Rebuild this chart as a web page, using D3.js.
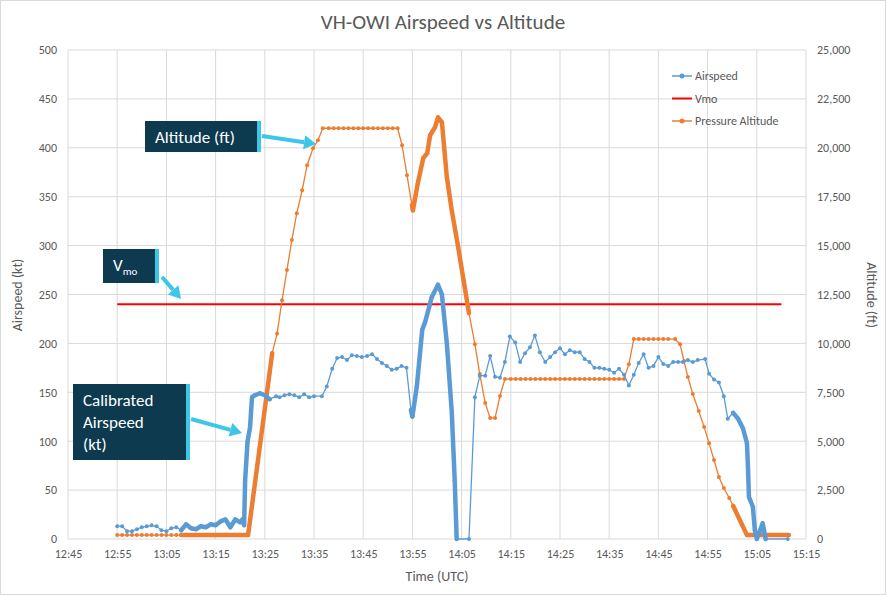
<!DOCTYPE html>
<html><head><meta charset="utf-8">
<script src="https://cdn.jsdelivr.net/npm/d3@7"></script>
<style>body{margin:0;background:#fff;font-family:Calibri,Carlito,"Open Sans",sans-serif}</style>
</head><body><svg id="c" width="886" height="595"></svg>
<script>
// times are minutes after midnight UTC
const speedTime = [775,776,777,778,779,780,781,782,783,784,785,786,787,788,789,790,791,792,793,794,795,796,797,798,799,800,800.5,800.8,801,801.5,802,802.4,803,804,805,806,807.3,808,809,810,811,812,813,814,815,816.6,817.6,818.7,819.7,820.7,821.7,822.7,823.7,824.7,825.8,826.8,827.8,828.8,829.8,830.8,831.8,832.8,833.8,834.7,835,835.9,837,837.6,838.6,838.9,840.2,841,842,843,843.6,844,846.5,847.7,848.7,849.8,850.8,851.8,852.8,853.8,854.8,855.9,856.9,857.9,858.9,859.9,860.9,862,863,864,865,866,867,868,869,870,871,872,873,874,875,876,877,878,879,880,881,882,883,884,885,886,887,888,889,890,891,892,893,894.5,895.3,896.3,897.3,898.3,899.1,900.2,901.2,902.2,903,903.2,903.4,904.2,904.6,905,906.2,906.8,911.3];
const speedVal = [13,13,8,8,10,12,13,14,13,9,8,11,12,9,15,11,10,13,12,15,14,18,20,12,20,17,20,14,60,100,114,145,147,149,147,143,146,145,147,148,147,145,148,145,146,146,156,174,185,186,183,188,187,186,187,189,184,180,177,173,174,177,175,132,125,156,214,222,241,247,260,250,200,130,60,0,0,145,167,167,187,166,165,181,207,201,181,190,196,208,191,181,186,191,195,189,193,191,191,184,181,175,175,174,173,170,174,168,157,168,180,189,175,177,186,179,177,181,181,181,183,181,183,184,169,163,160,146,123,129,123,113,98,74,43,33,9,0,16,0,0];
const altTime = [775,776,777,778,779,780,781,782,783,784,785,786,787,788,789,790,791,792,793,794,795,796,797,798,799,800,801.6,806.5,807.5,808.5,809.5,810.5,811.5,812.6,813.6,814.8,815.8,816.8,818,819,820,821,822,823,824,825,826,827,828,829,830,831,832,832.9,833.9,834.9,835.1,836.1,837.2,838,838.6,839.6,840.2,841,842,843,844.3,845.3,846.5,847.7,848.7,849.8,850.8,851.8,852.8,853.8,855,856,857,858,859,860,861,862,863,864,865,866,867,868,869,870,871,872,873,874,875,876,877,878,879,880,881,882,883,884,885,886,887,888.4,889.4,890.2,891,892,893.2,894.3,895.3,896.3,897.3,898.3,899.4,900.2,903,905,907,909,911.5];
const altVal = [200,200,200,200,200,200,200,200,200,200,200,200,200,200,200,200,200,200,200,200,200,200,200,200,200,200,200,9500,10500,12200,13750,15280,16660,17830,19110,19980,20390,21000,21000,21000,21000,21000,21000,21000,21000,21000,21000,21000,21000,21000,21000,21000,21000,20130,18600,17070,16800,18190,19470,19720,20640,21050,21560,21300,18500,16800,14920,13390,11550,9960,8430,6950,6180,6180,7310,8180,8180,8180,8180,8180,8180,8180,8180,8180,8180,8180,8180,8180,8180,8180,8180,8180,8180,8180,8180,8180,8180,8180,8180,8180,8940,10220,10220,10220,10220,10220,10220,10220,10220,10220,9960,9100,8280,7410,6540,5720,4900,4040,3170,2610,2100,1690,200,200,200,200,200];
// high-rate recording windows
const speedDense = [[788,800.5],[800.5,806.5],[834.5,845],[899.5,907]];
const altDense = [[788,806.6],[834.5,846.7],[899.7,911.5]];
const vmo = 240, vmoSpan = [775,910];
const timeTicks = d3.range(765, 916, 10);
const fmt = m => `${Math.floor(m/60)}:${String(m%60).padStart(2,'0')}`;

const svg = d3.select('#c');
const W = 886, H = 595;
svg.append('rect').attr('x',0.5).attr('y',0.5).attr('width',W-1).attr('height',H-1).attr('fill','#fff').attr('stroke','#d9d9d9');
const x = d3.scaleLinear().domain([765,915]).range([68,806]);
const yL = d3.scaleLinear().domain([0,500]).range([539,50]);
const yR = d3.scaleLinear().domain([0,25000]).range([539,50]);
const blue = '#5b9bd5', orange = '#ed7d31', txt = '#595959';

const g = svg.append('g');
g.selectAll('.hg').data(d3.range(0,501,50)).join('line').attr('x1',68).attr('x2',806)
  .attr('y1',d=>yL(d)).attr('y2',d=>yL(d)).attr('stroke','#d9d9d9');
g.selectAll('.vg').data(timeTicks).join('line').attr('y1',50).attr('y2',539)
  .attr('x1',d=>x(d)).attr('x2',d=>x(d)).attr('stroke','#d9d9d9');

const ax = (sel) => { sel.select('.domain').remove(); sel.selectAll('line').remove();
  sel.selectAll('text').attr('fill',txt).attr('font-size',12).attr('font-family','Calibri,Carlito,"Open Sans",sans-serif'); };
svg.append('g').attr('transform','translate(60,0)').call(d3.axisLeft(yL).tickValues(d3.range(0,501,50)).tickSize(0)).call(ax);
svg.append('g').attr('transform','translate(814,0)').call(d3.axisRight(yR).tickValues(d3.range(0,25001,2500)).tickSize(0)).call(ax);
svg.append('g').attr('transform','translate(0,546)').call(d3.axisBottom(x).tickValues(timeTicks).tickFormat(fmt).tickSize(0)).call(ax);

svg.append('text').attr('x',443).attr('y',29).attr('text-anchor','middle').attr('font-size',21).attr('fill',txt).text('VH-OWI Airspeed vs Altitude');
svg.append('text').attr('x',437).attr('y',581).attr('text-anchor','middle').attr('font-size',14).attr('fill',txt).text('Time (UTC)');
svg.append('text').attr('transform','translate(22,295) rotate(-90)').attr('text-anchor','middle').attr('font-size',14).attr('fill',txt).text('Airspeed (kt)');
svg.append('text').attr('transform','translate(867,295) rotate(90)').attr('text-anchor','middle').attr('font-size',14).attr('fill',txt).text('Altitude (ft)');

function series(ts, vs, y, color, dense) {
  const pts = ts.map((t,i)=>[t,vs[i]]);
  const line = d3.line().x(d=>x(d[0])).y(d=>y(d[1]));
  g.append('path').attr('d',line(pts)).attr('fill','none').attr('stroke',color).attr('stroke-width',1.3);
  dense.forEach(([a,b]) => {
    const seg = pts.filter(d=>d[0]>=a && d[0]<=b);
    g.append('path').attr('d',line(seg)).attr('fill','none').attr('stroke',color).attr('stroke-width',4.5).attr('stroke-linejoin','round').attr('stroke-linecap','round');
  });
  g.selectAll(null).data(pts).join('circle').attr('cx',d=>x(d[0])).attr('cy',d=>y(d[1])).attr('r',2).attr('fill',color);
}
g.append('line').attr('x1',x(vmoSpan[0])).attr('x2',x(vmoSpan[1])).attr('y1',yL(vmo)).attr('y2',yL(vmo)).attr('stroke','#ff0000').attr('stroke-width',2);
series(altTime, altVal, yR, orange, altDense);
series(speedTime, speedVal, yL, blue, speedDense);

// legend
const leg = [['Airspeed',blue,true],['Vmo','#ff0000',false],['Pressure Altitude',orange,true]];
leg.forEach(([n,c,dot],i)=>{
  const yy = 76 + i*22.5;
  svg.append('line').attr('x1',672).attr('x2',692).attr('y1',yy).attr('y2',yy).attr('stroke',c).attr('stroke-width',dot?1.5:2);
  if (dot) svg.append('circle').attr('cx',682).attr('cy',yy).attr('r',2.5).attr('fill',c);
  svg.append('text').attr('x',695).attr('y',yy+4).attr('font-size',12).attr('fill',txt).text(n);
});

// annotations
const cyan = '#3ec6e8', navy = '#0d3a4f';
function box(x0,y0,w,h,lines,sub) {
  svg.append('rect').attr('x',x0).attr('y',y0).attr('width',w).attr('height',h).attr('fill',navy);
  svg.append('rect').attr('x',x0+w-4).attr('y',y0).attr('width',4).attr('height',h).attr('fill',cyan);
  lines.forEach((l,i)=>{
    const t = svg.append('text').attr('x',x0+10).attr('y',y0+22+i*22).attr('font-size',17).attr('fill','#fff').attr('font-family','Calibri,Carlito,"Open Sans",sans-serif').text(l);
    if (sub) t.append('tspan').attr('font-size',11).attr('dy',4).text(sub);
  });
}
function arrow(x1,y1,x2,y2) {
  const a = Math.atan2(y2-y1,x2-x1), L = 12, Wd = 7;
  svg.append('line').attr('x1',x1).attr('y1',y1).attr('x2',x2-Math.cos(a)*L).attr('y2',y2-Math.sin(a)*L).attr('stroke',cyan).attr('stroke-width',4);
  const p = [[x2,y2],[x2-Math.cos(a)*L-Math.sin(a)*Wd, y2-Math.sin(a)*L+Math.cos(a)*Wd],[x2-Math.cos(a)*L+Math.sin(a)*Wd, y2-Math.sin(a)*L-Math.cos(a)*Wd]];
  svg.append('polygon').attr('points',p.map(q=>q.join(',')).join(' ')).attr('fill',cyan);
}
box(145,121,116,31,['Altitude (ft)']);
arrow(262,136,316,144);
box(103,249,56,34,['V'],'mo');
arrow(162,277,181,299);
box(73,384,117,76,['Calibrated','Airspeed','(kt)']);
arrow(191,419,242,433);
</script></body></html>
